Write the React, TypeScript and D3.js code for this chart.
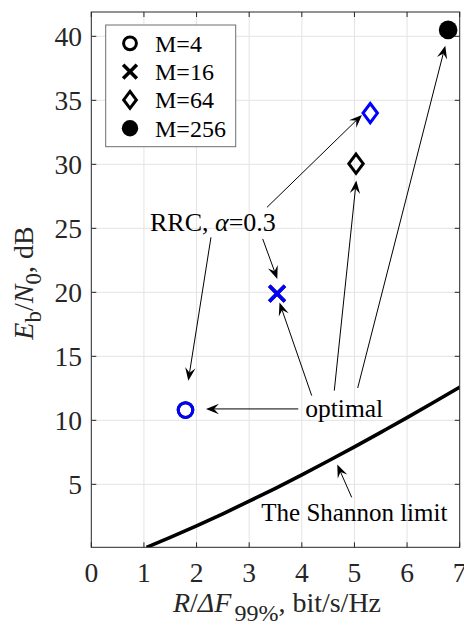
import React, { useEffect, useRef } from "react";
import * as d3 from "d3";

const xTicks = [0, 1, 2, 3, 4, 5, 6, 7];
const yTicks = [5, 10, 15, 20, 25, 30, 35, 40];

// Shannon limit curve (dB)
const shannonRate = [1.05, 1.5, 2, 2.5, 3, 3.5, 4, 4.5, 5, 5.5, 6, 6.5, 7];
const shannonEbN0 = [0.08, 0.86, 1.76, 2.7, 3.68, 4.69, 5.74, 6.82, 7.92, 9.06, 10.21, 11.39, 12.59];

const legendLabels = ["M=4", "M=16", "M=64", "M=256"];
const markerKinds = ["circle", "cross", "diamond", "dot"];

// optimal pulse (black) and RRC alpha=0.3 (blue)
const optRate = [1.79, 3.53, 5.03, 6.78];
const optEbN0 = [10.8, 19.9, 30.05, 40.5];
const rrcRate = [1.79, 3.53, 5.3];
const rrcEbN0 = [10.8, 19.9, 34.0];

// annotation arrows in data units: [fromX, fromY, toX, toY]
const rrcArrows = [
  [2.274, 24.3, 1.843, 13.1],
  [3.257, 24.17, 3.534, 21.05],
  [3.338, 26.64, 5.143, 33.86],
];
const optArrows = [
  [3.933, 10.89, 2.179, 10.89],
  [4.188, 11.93, 3.576, 19.2],
  [4.617, 12.32, 5.035, 28.73],
  [5.062, 12.53, 6.726, 39.27],
];
const shannonArrow = [4.948, 3.98, 4.674, 6.54];

const FONT = "'Liberation Serif', 'Times New Roman', serif";
const AX = "#262626";
const BLUE = "#0000ff";

const App = () => {
  const ref = useRef<SVGSVGElement>(null);

  useEffect(() => {
    const svg = d3.select(ref.current);
    svg.selectAll("*").remove();

    const x = d3.scaleLinear().domain([0, 7]).range([91.3, 459.7]);
    const y = d3.scaleLinear().domain([0.08, 41.9]).range([547.3, 12]);
    const [x0, x1] = x.range();
    const [y0, y1] = y.range();

    // grid
    const grid = svg.append("g").attr("stroke", "#e3e3e3").attr("stroke-width", 1);
    grid.selectAll("line.gx").data(xTicks.slice(1, -1)).enter().append("line")
      .attr("x1", (d) => x(d)).attr("x2", (d) => x(d)).attr("y1", y0).attr("y2", y1);
    grid.selectAll("line.gy").data(yTicks).enter().append("line")
      .attr("y1", (d) => y(d)).attr("y2", (d) => y(d)).attr("x1", x0).attr("x2", x1);

    // ticks (inside, all four sides)
    const tk = svg.append("g").attr("stroke", AX).attr("stroke-width", 1);
    xTicks.forEach((t) => {
      tk.append("line").attr("x1", x(t)).attr("x2", x(t)).attr("y1", y0).attr("y2", y0 - 5);
      tk.append("line").attr("x1", x(t)).attr("x2", x(t)).attr("y1", y1).attr("y2", y1 + 5);
    });
    yTicks.forEach((t) => {
      tk.append("line").attr("y1", y(t)).attr("y2", y(t)).attr("x1", x0).attr("x2", x0 + 5);
      tk.append("line").attr("y1", y(t)).attr("y2", y(t)).attr("x1", x1).attr("x2", x1 - 5);
    });

    // tick labels
    svg.append("g").selectAll("text").data(xTicks).enter().append("text")
      .attr("x", (d) => x(d)).attr("y", 582)
      .attr("text-anchor", "middle").attr("font-family", FONT).attr("font-size", 27.5)
      .attr("fill", AX).text((d) => d);
    svg.append("g").selectAll("text").data(yTicks).enter().append("text")
      .attr("x", 82).attr("y", (d) => y(d) + 10)
      .attr("text-anchor", "end").attr("font-family", FONT).attr("font-size", 27.5)
      .attr("fill", AX).text((d) => d);

    // clip for the curve
    svg.append("clipPath").attr("id", "plotclip").append("rect")
      .attr("x", x0).attr("y", y1).attr("width", x1 - x0).attr("height", y0 - y1);

    const line = d3.line<number>()
      .x((d, i) => x(shannonRate[i]))
      .y((d) => y(d))
      .curve(d3.curveMonotoneX);
    svg.append("path").datum(shannonEbN0).attr("d", line)
      .attr("clip-path", "url(#plotclip)")
      .attr("fill", "none").attr("stroke", "#000").attr("stroke-width", 3.6);

    // markers
    const drawMarker = (g: any, kind: string, cx: number, cy: number, color: string, s: number) => {
      if (kind === "circle") {
        g.append("circle").attr("cx", cx).attr("cy", cy).attr("r", 7.3 * s)
          .attr("fill", "none").attr("stroke", color).attr("stroke-width", 3);
      } else if (kind === "cross") {
        const h = 7.8 * s;
        g.append("path")
          .attr("d", `M${cx - h},${cy - h}L${cx + h},${cy + h}M${cx - h},${cy + h}L${cx + h},${cy - h}`)
          .attr("stroke", color).attr("stroke-width", 3.6).attr("fill", "none");
      } else if (kind === "diamond") {
        const w = 7.2 * s, hh = 9.6 * s;
        g.append("path")
          .attr("d", `M${cx},${cy - hh}L${cx + w},${cy}L${cx},${cy + hh}L${cx - w},${cy}Z`)
          .attr("stroke", color).attr("stroke-width", 3).attr("fill", "none")
          .attr("stroke-linejoin", "miter");
      } else {
        g.append("circle").attr("cx", cx).attr("cy", cy).attr("r", 9.3 * s).attr("fill", color);
      }
    };

    const pts = svg.append("g");
    optRate.forEach((r, i) => drawMarker(pts, markerKinds[i], x(r), y(optEbN0[i]), "#000", 1));
    rrcRate.forEach((r, i) => drawMarker(pts, markerKinds[i], x(r), y(rrcEbN0[i]), BLUE, 1));

    // arrows
    const arrow = (a: number[]) => {
      const ax = x(a[0]), ay = y(a[1]), bx = x(a[2]), by = y(a[3]);
      const ang = Math.atan2(by - ay, bx - ax);
      const L = 13, hw = 5.2, n = 8;
      const ca = Math.cos(ang), sa = Math.sin(ang);
      const pt = (u: number, v: number) => [bx + u * ca - v * sa, by + u * sa + v * ca];
      svg.append("line").attr("x1", ax).attr("y1", ay)
        .attr("x2", pt(-n, 0)[0]).attr("y2", pt(-n, 0)[1])
        .attr("stroke", "#000").attr("stroke-width", 1);
      const p = [pt(0, 0), pt(-L, hw), pt(-n, 0), pt(-L, -hw)];
      svg.append("path").attr("d", "M" + p.map((q) => q.join(",")).join("L") + "Z").attr("fill", "#000");
    };
    rrcArrows.forEach(arrow);
    optArrows.forEach(arrow);
    arrow(shannonArrow);

    // annotation texts
    const rrc = svg.append("text").attr("x", x(1.115)).attr("y", y(24.77))
      .attr("font-family", FONT).attr("font-size", 26).attr("fill", "#000");
    rrc.append("tspan").text("RRC, ");
    rrc.append("tspan").attr("font-style", "italic").text("α");
    rrc.append("tspan").text("=0.3");

    svg.append("text").attr("x", x(4.066)).attr("y", y(10.23))
      .attr("font-family", FONT).attr("font-size", 25.5).attr("fill", "#000").text("optimal");
    svg.append("text").attr("x", x(3.23)).attr("y", y(2.16))
      .attr("font-family", FONT).attr("font-size", 25).attr("fill", "#000").text("The Shannon limit");

    // axes box
    svg.append("rect").attr("x", x0).attr("y", y1).attr("width", x1 - x0).attr("height", y0 - y1)
      .attr("fill", "none").attr("stroke", AX).attr("stroke-width", 1);

    // legend
    const lg = svg.append("g");
    lg.append("rect").attr("x", 105.7).attr("y", 25).attr("width", 130).attr("height", 121.7)
      .attr("fill", "#fff").attr("stroke", "#6e6e6e").attr("stroke-width", 1);
    legendLabels.forEach((lab, i) => {
      const cy = 43.3 + i * 28.3;
      drawMarker(lg, markerKinds[i], 130, cy, "#000", 0.88);
      lg.append("text").attr("x", 155).attr("y", cy + 8.5).attr("font-family", FONT)
        .attr("font-size", 24).attr("fill", "#000").text(lab);
    });

    // axis labels
    const xl = svg.append("text").attr("x", 277).attr("y", 612).attr("text-anchor", "middle")
      .attr("font-family", FONT).attr("font-size", 28).attr("fill", AX);
    xl.append("tspan").attr("font-style", "italic").text("R");
    xl.append("tspan").text("/");
    xl.append("tspan").attr("font-style", "italic").text("ΔF");
    xl.append("tspan").attr("dx", 3).attr("dy", 9).attr("font-size", 24).text("99%");
    xl.append("tspan").attr("dy", -9).text(", bit/s/Hz");

    const yl = svg.append("text").attr("transform", "translate(33,283) rotate(-90)")
      .attr("text-anchor", "middle").attr("font-family", FONT).attr("font-size", 28).attr("fill", AX);
    yl.append("tspan").attr("font-style", "italic").text("E");
    yl.append("tspan").attr("dy", 8).attr("font-size", 23).text("b");
    yl.append("tspan").attr("dy", -8).text("/");
    yl.append("tspan").attr("font-style", "italic").text("N");
    yl.append("tspan").attr("dy", 8).attr("font-size", 23).text("0");
    yl.append("tspan").attr("dy", -8).text(", dB");
  }, []);

  return (
    <svg
      ref={ref}
      width={464}
      height={635}
      style={{ position: "absolute", left: 0, top: 0, background: "#fff", display: "block" }}
    />
  );
};

export default App;
